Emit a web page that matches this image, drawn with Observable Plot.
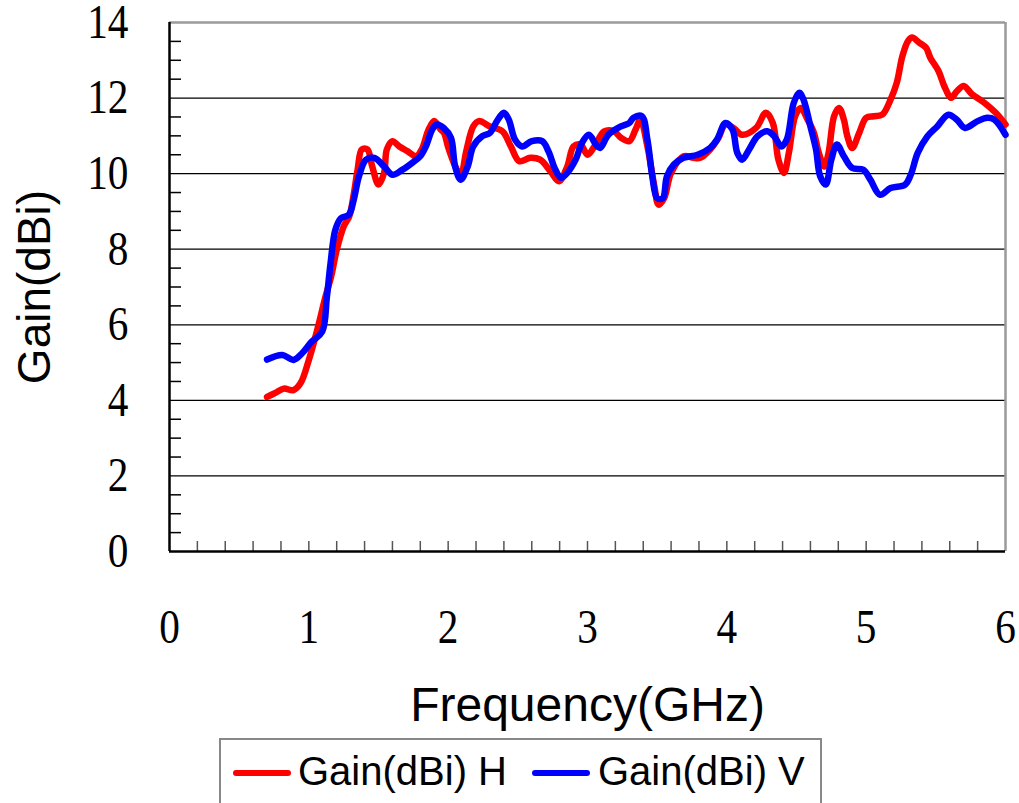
<!DOCTYPE html>
<html>
<head>
<meta charset="utf-8">
<script src="https://cdn.jsdelivr.net/npm/d3@7"></script>
<script src="https://cdn.jsdelivr.net/npm/@observablehq/plot@0.6"></script>
<style>
  html, body { margin: 0; padding: 0; background: #fff; width: 1019px; height: 803px; overflow: hidden; }
  #wrap { position: relative; width: 1019px; height: 803px; }
  #legend { position: absolute; left: 219px; top: 738px; width: 603px; height: 80px;
            border: 2px solid #888; border-bottom: none; box-sizing: border-box;
            font-family: "Liberation Sans", Arial, sans-serif; font-size: 40px; color: #000; }
  .sw { position: absolute; top: 30px; width: 58px; height: 6px; border-radius: 3px; }
  .lt { position: absolute; top: 8px; line-height: 46px; white-space: nowrap; }
</style>
</head>
<body>
<div id="wrap"></div>
<script>
// ---- data ----
const freqH = [0.70,0.76,0.82,0.89,0.94,1.00,1.06,1.12,1.16,1.20,1.25,1.29,1.32,1.35,1.38,1.42,1.455,1.50,1.54,1.56,1.60,1.65,1.71,1.77,1.81,1.86,1.90,1.945,1.97,2.00,2.05,2.09,2.13,2.18,2.22,2.30,2.39,2.45,2.51,2.59,2.66,2.735,2.795,2.855,2.90,2.95,3.00,3.05,3.12,3.19,3.24,3.30,3.345,3.38,3.43,3.48,3.51,3.55,3.60,3.69,3.76,3.81,3.88,3.94,3.99,4.05,4.11,4.21,4.28,4.33,4.37,4.41,4.445,4.49,4.53,4.58,4.625,4.66,4.70,4.73,4.77,4.805,4.84,4.865,4.90,4.95,5.00,5.055,5.115,5.175,5.22,5.26,5.30,5.33,5.38,5.43,5.46,5.52,5.56,5.61,5.65,5.70,5.76,5.85,5.93,6.00];
const gainH = [4.09,4.20,4.31,4.27,4.45,5.07,5.86,6.75,7.28,7.98,8.60,8.87,9.40,10.10,10.64,10.64,10.19,9.71,10.02,10.64,10.86,10.72,10.59,10.46,10.64,11.17,11.39,11.17,11.08,10.70,10.20,9.95,10.60,11.25,11.39,11.25,11.12,10.72,10.33,10.42,10.37,10.06,9.80,10.19,10.72,10.77,10.50,10.72,11.12,11.12,10.95,10.86,11.17,11.43,10.72,9.66,9.18,9.35,10.02,10.46,10.42,10.42,10.64,10.95,11.30,11.20,11.03,11.21,11.61,11.34,10.37,10.02,10.55,11.52,11.74,11.43,11.08,10.55,10.19,10.55,11.52,11.74,11.43,10.99,10.68,11.08,11.48,11.52,11.56,11.96,12.41,13.11,13.51,13.60,13.47,13.33,13.07,12.71,12.32,12.01,12.18,12.32,12.10,11.87,11.61,11.30];
const freqV = [0.70,0.81,0.89,0.95,1.02,1.096,1.13,1.156,1.19,1.23,1.287,1.32,1.36,1.41,1.47,1.54,1.60,1.67,1.74,1.80,1.84,1.886,1.92,1.97,2.02,2.05,2.09,2.14,2.18,2.245,2.30,2.35,2.40,2.435,2.48,2.53,2.60,2.675,2.72,2.77,2.81,2.855,2.915,2.96,3.01,3.06,3.09,3.15,3.24,3.30,3.33,3.39,3.43,3.465,3.50,3.54,3.57,3.62,3.69,3.79,3.88,3.93,3.99,4.04,4.075,4.11,4.16,4.22,4.29,4.34,4.39,4.43,4.48,4.52,4.55,4.60,4.64,4.67,4.71,4.75,4.79,4.84,4.90,4.98,5.03,5.10,5.175,5.28,5.32,5.37,5.44,5.51,5.59,5.65,5.71,5.80,5.87,5.92,6.00];
const gainV = [5.08,5.20,5.07,5.24,5.55,5.82,6.75,7.63,8.51,8.82,8.91,9.27,9.93,10.37,10.42,10.19,9.97,10.10,10.28,10.46,10.72,11.17,11.30,11.20,10.95,10.19,9.84,10.19,10.72,10.99,11.08,11.39,11.61,11.43,10.90,10.72,10.86,10.86,10.59,10.10,9.89,10.02,10.37,10.81,11.03,10.77,10.68,11.03,11.25,11.34,11.48,11.52,10.90,9.93,9.35,9.35,9.93,10.24,10.42,10.50,10.68,10.90,11.34,11.17,10.55,10.37,10.64,10.99,11.12,10.99,10.72,10.90,11.87,12.14,11.96,11.25,10.64,9.93,9.71,10.37,10.77,10.46,10.15,10.10,9.84,9.44,9.62,9.71,9.97,10.55,10.99,11.25,11.56,11.43,11.21,11.39,11.48,11.43,11.03];
const xTicks = [0,1,2,3,4,5,6];
const yTicks = [0,2,4,6,8,10,12,14];
const gridY = [2,4,6,8,10,12];
const minorX = d3.range(1, 30).map(i => +(i * 0.2).toFixed(1));
const minorY = d3.range(1, 28).map(i => i * 0.5).filter(v => v % 2 !== 0);
const seriesNames = ["Gain(dBi) H", "Gain(dBi) V"];
const seriesColors = ["#ff0000", "#0000ff"];

const dataH = freqH.map((f, i) => ({f, g: gainH[i]}));
const dataV = freqV.map((f, i) => ({f, g: gainV[i]}));

const W = 1019, H = 735, mL = 169, mR = 14, mT = 22, mB = H - 551;
const plotW = W - mL - mR, plotH = H - mT - mB;

const chart = Plot.plot({
  width: W, height: H,
  marginLeft: mL, marginRight: mR, marginTop: mT, marginBottom: mB,
  x: {domain: [0, 6]},
  y: {domain: [0, 14]},
  style: {fontFamily: "'Liberation Serif', serif", color: "#000", background: "#fff", overflow: "visible"},
  marks: [
    Plot.ruleY(gridY, {stroke: "#000", strokeWidth: 1.2}),
    Plot.ruleY([14], {stroke: "#9a9a9a", strokeWidth: 2.5}),
    Plot.ruleX([6], {stroke: "#9a9a9a", strokeWidth: 2.5}),
    Plot.tickY(minorY, {stroke: "#000", strokeWidth: 1.5, insetRight: plotW - 12}),
    Plot.tickX(minorX, {stroke: "#555", strokeWidth: 1.5, insetTop: plotH - 10}),
    Plot.line(dataH, {x: "f", y: "g", stroke: seriesColors[0], strokeWidth: 6.5, curve: "catmull-rom", strokeLinejoin: "round", strokeLinecap: "round"}),
    Plot.line(dataV, {x: "f", y: "g", stroke: seriesColors[1], strokeWidth: 6.5, curve: "catmull-rom", strokeLinejoin: "round", strokeLinecap: "round"}),
    Plot.ruleX([0], {stroke: "#000", strokeWidth: 2.5}),
    Plot.ruleY([0], {stroke: "#000", strokeWidth: 2.5}),
    Plot.axisY(yTicks, {tickSize: 0, tickPadding: 41, fontSize: 48, tickFormat: d3.format("d"), label: null}),
    Plot.axisX(xTicks, {tickSize: 0, tickPadding: 57, fontSize: 48, tickFormat: d3.format("d"), label: null}),
    Plot.text(["Frequency(GHz)"], {frameAnchor: "bottom", dy: 154, lineAnchor: "middle", textAnchor: "middle", fontSize: 48, fontFamily: "'Liberation Sans', Arial, sans-serif"}),
    Plot.text(["Gain(dBi)"], {frameAnchor: "left", rotate: -90, dx: -134, textAnchor: "middle", lineAnchor: "middle", fontSize: 46, fontFamily: "'Liberation Sans', Arial, sans-serif"})
  ]
});

// condense the serif tick digits horizontally
d3.select(chart).selectAll('g[aria-label$="tick label"] text').each(function() {
  const t = this.getAttribute("transform");
  if (t) this.setAttribute("transform", t + " scale(0.86,1)");
});

const wrap = document.getElementById("wrap");
wrap.appendChild(chart);

const legend = document.createElement("div");
legend.id = "legend";
legend.innerHTML =
  `<span class="sw" style="left:12px;background:${seriesColors[0]}"></span>` +
  `<span class="lt" style="left:77px">${seriesNames[0]}</span>` +
  `<span class="sw" style="left:311px;background:${seriesColors[1]}"></span>` +
  `<span class="lt" style="left:377px">${seriesNames[1]}</span>`;
wrap.appendChild(legend);
</script>
</body>
</html>
